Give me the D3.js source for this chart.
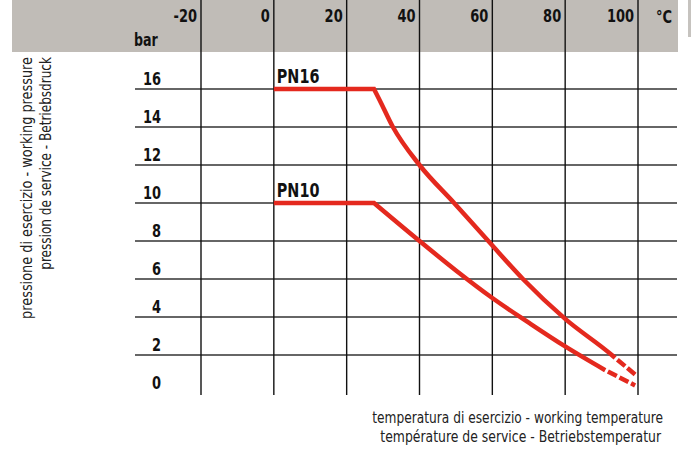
<!DOCTYPE html>
<html>
<head>
<meta charset="utf-8">
<script src="https://cdn.jsdelivr.net/npm/d3@7"></script>
<style>
  html, body { margin: 0; padding: 0; background: #fff; }
  svg { display: block; }
  text { font-family: "Liberation Sans Narrow", "DejaVu Sans Condensed", "Roboto", sans-serif; fill: #111; }
  .bold { font-weight: bold; }
  .title { fill: #222; }
</style>
</head>
<body>
<div id="chart"></div>
<script>
// Data
const tempTicks = [-20, 0, 20, 40, 60, 80, 100];
const pressTicks = [0, 2, 4, 6, 8, 10, 12, 14, 16];
const gridPress = [2, 4, 6, 8, 10, 12, 14, 16];

const pn16Temp = [0, 27.5, 29.1, 32.7, 40, 49.5, 58.9, 68.4, 80, 92.8, 93.7];
const pn16Bar  = [16, 16, 15.4, 14, 12, 10, 8, 6, 3.9, 2, 1.85];
const pn16DashTemp = [93.7, 99.7];
const pn16DashBar  = [1.85, 0.9];

const pn10Temp = [0, 27.5, 40, 50, 60, 70, 80, 91];
const pn10Bar  = [10, 10, 8, 6.45, 5.0, 3.7, 2.45, 1.2];
const pn10DashTemp = [91, 99.2];
const pn10DashBar  = [1.2, 0.4];

const seriesNames = ['PN16', 'PN10'];
const yTitle = ['pressione di esercizio - working pressure', 'pression de service - Betriebsdruck'];
const xTitle = ['temperatura di esercizio - working temperature', 'température de service - Betriebstemperatur'];

// Layout
const W = 691, H = 451;
const red = '#e4291e';
const squeeze = 0.78;   // condensed look for the bold labels

const svg = d3.select('#chart').append('svg')
    .attr('width', W)
    .attr('height', H);

const x = d3.scaleLinear().domain([-20, 100]).range([201, 638]);
const y = d3.scaleLinear().domain([0, 16]).range([393, 89]);

// header band
svg.append('rect')
    .attr('x', 12).attr('y', 0)
    .attr('width', 666).attr('height', 52)
    .attr('fill', '#c0bcb7');
svg.append('rect')
    .attr('x', 688).attr('y', 0)
    .attr('width', 3).attr('height', 37)
    .attr('fill', '#c6c3bf');

// horizontal grid
svg.selectAll('.hgrid')
    .data(gridPress)
    .enter().append('line')
    .attr('class', 'hgrid')
    .attr('x1', 135).attr('x2', 677)
    .attr('y1', d => y(d)).attr('y2', d => y(d))
    .attr('stroke', '#333')
    .attr('stroke-width', 1.3);

// vertical grid
svg.selectAll('.vgrid')
    .data(tempTicks)
    .enter().append('line')
    .attr('class', 'vgrid')
    .attr('x1', d => x(d)).attr('x2', d => x(d))
    .attr('y1', 0).attr('y2', 395)
    .attr('stroke', '#111')
    .attr('stroke-width', 1.4);

// temperature labels (in header)
svg.selectAll('.tlabel')
    .data(tempTicks)
    .enter().append('text')
    .attr('class', 'tlabel bold')
    .attr('transform', d => `translate(${x(d) - 4},22) scale(${squeeze},1)`)
    .attr('text-anchor', 'end')
    .style('font-size', '18.5px')
    .text(d => d);

svg.append('text')
    .attr('class', 'bold')
    .attr('transform', `translate(656,23) scale(${squeeze},1)`)
    .style('font-size', '18.5px')
    .text('°C');

svg.append('text')
    .attr('class', 'bold')
    .attr('transform', `translate(134,46) scale(${squeeze},1)`)
    .style('font-size', '18px')
    .text('bar');

// pressure labels
svg.selectAll('.plabel')
    .data(pressTicks)
    .enter().append('text')
    .attr('class', 'plabel bold')
    .attr('transform', d => `translate(161,${y(d) - 4}) scale(${squeeze},1)`)
    .attr('text-anchor', 'end')
    .style('font-size', '18.5px')
    .text(d => d);

// curves
function curvePath(temps, bars) {
    const pts = temps.map((t, i) => [x(t), y(bars[i])]);
    const flat = d3.line()(pts.slice(0, 2));
    const drop = d3.line().curve(d3.curveMonotoneX)(pts.slice(1));
    return flat + drop.replace(/^M/, 'L');
}
function dashPath(temps, bars) {
    return d3.line()(temps.map((t, i) => [x(t), y(bars[i])]));
}

const curves = [
    {name: seriesNames[0], t: pn16Temp, b: pn16Bar, dt: pn16DashTemp, db: pn16DashBar},
    {name: seriesNames[1], t: pn10Temp, b: pn10Bar, dt: pn10DashTemp, db: pn10DashBar}
];

curves.forEach(c => {
    svg.append('path')
        .attr('d', curvePath(c.t, c.b))
        .attr('fill', 'none')
        .attr('stroke', red)
        .attr('stroke-width', 4.5);
    svg.append('path')
        .attr('d', dashPath(c.dt, c.db))
        .attr('fill', 'none')
        .attr('stroke', red)
        .attr('stroke-width', 4.5)
        .attr('stroke-dasharray', '10 3')
        .attr('stroke-dashoffset', 10);
    svg.append('text')
        .attr('class', 'bold')
        .attr('transform', `translate(${x(0) + 3},${y(c.b[0]) - 6.5}) scale(0.82,1)`)
        .style('font-size', '19.5px')
        .text(c.name);
});

// axis titles: condense each line to the width it has in the original
function fitText(sel, target) {
    const len = sel.node().getComputedTextLength();
    return target / len;
}

const yLens = [262, 213];
yTitle.forEach((s, i) => {
    const t = svg.append('text')
        .attr('class', 'title')
        .attr('text-anchor', 'end')
        .style('font-size', '15px')
        .text(s);
    const k = fitText(t, yLens[i]);
    t.attr('transform', `translate(${32 + i * 19},57) rotate(-90) scale(${k},1)`);
});

const xLens = [291, 281];
xTitle.forEach((s, i) => {
    const t = svg.append('text')
        .attr('class', 'title')
        .attr('text-anchor', 'end')
        .style('font-size', '15.5px')
        .text(s);
    const k = fitText(t, xLens[i]);
    t.attr('transform', `translate(${663 - i * 2},${422.5 + i * 19.5}) scale(${k},1)`);
});
</script>
</body>
</html>
